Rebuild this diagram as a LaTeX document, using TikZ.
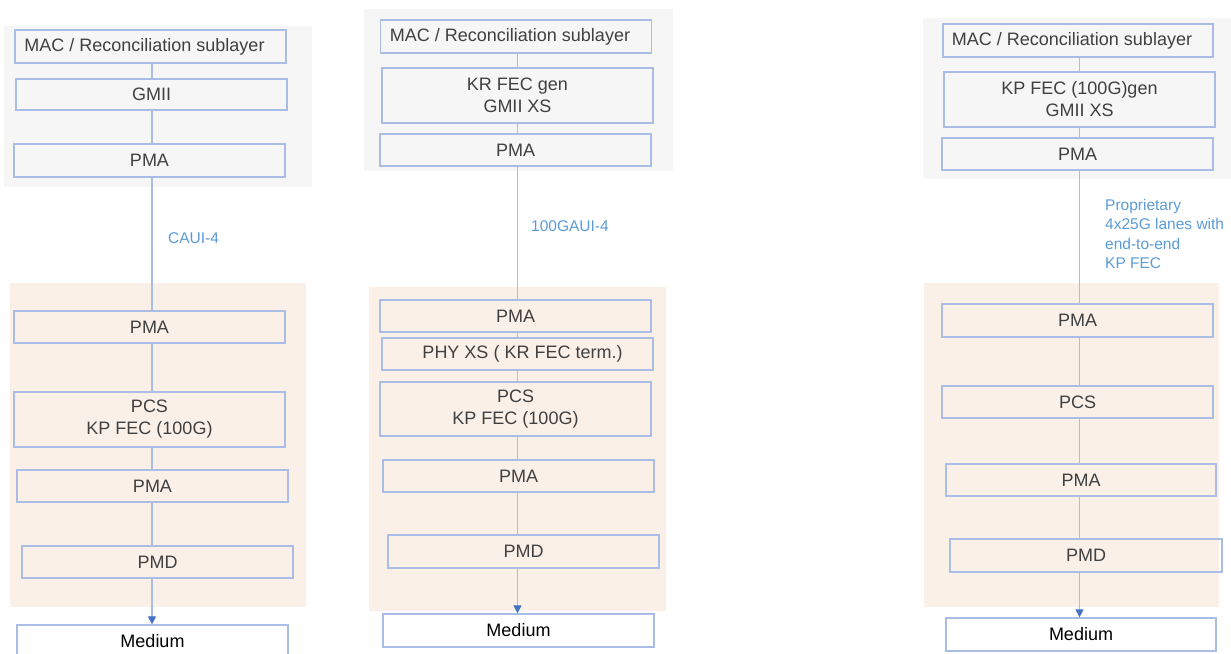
\documentclass[tikz,border=0pt]{standalone}
\usepackage{fontspec}
\setmainfont{Liberation Sans}
\usetikzlibrary{arrows.meta}
\definecolor{bggray}{HTML}{F6F6F6}
\definecolor{bgpeach}{HTML}{FBF0E8}
\definecolor{edgeblue}{HTML}{A9BDE6}
\definecolor{wireblue}{HTML}{A8BCE4}
\definecolor{tipblue}{HTML}{4472C4}
\definecolor{labelblue}{HTML}{5B9BD5}
\definecolor{txt}{HTML}{404040}
\tikzset{
  layer/.style={draw=edgeblue, line width=1.3pt, minimum width=271pt, minimum height=33pt,
    inner sep=0pt, align=center, text=txt, font=\fontsize{18}{22}\selectfont},
  tall/.style={minimum height=55pt},
  medium/.style={layer, fill=white, text=black},
  wire/.style={draw=wireblue, line width=1.1pt},
  arrowwire/.style={wire, -{Triangle[length=8pt, width=8pt, color=tipblue]}},
  linklabel/.style={text=labelblue, font=\fontsize{15.5}{19.5}\selectfont, align=left,
    anchor=west, inner sep=0pt},
}
% MAC text sits a little left of the box centre
\newcommand{\macrs}{MAC / Reconciliation sublayer\hspace{12pt}}
\begin{document}
\begin{tikzpicture}[x=1pt, y=-1pt]
\useasboundingbox (0,0) rectangle (1231,653);

% ---------- backgrounds: host side (gray) and PHY side (peach)
\fill[bggray]  (4,26)   rectangle (312,187);
\fill[bgpeach] (10,283) rectangle (306,607);
\fill[bggray]  (364,9)  rectangle (673,171);
\fill[bgpeach] (369,287) rectangle (666,611);
\fill[bggray]  (923,18) rectangle (1231,179);
\fill[bgpeach] (924,283) rectangle (1219,607);

% ---------- column 1: CAUI-4
\coordinate (x1) at (152,0);
\node[layer] (m1)   at (150.5,46.5) {\macrs};
\node[layer, minimum height=31pt] (g1) at (151.5,94.5) {GMII};
\node[layer] (p1)   at (149.5,160.5) {PMA};
\node[layer, minimum height=32pt] (q1) at (149.5,327) {PMA};
\node[layer, tall] (pcs1) at (149.5,419.5) {PCS\\KP FEC (100G)};
\node[layer, minimum height=32pt] (r1) at (152.5,486) {PMA};
\node[layer, minimum height=32pt] (pmd1) at (157.5,562) {PMD};
\node[medium] (med1) at (152.5,641.5) {Medium};
\draw[wire] (m1.south -| x1) -- (g1.north -| x1);
\draw[wire] (g1.south -| x1) -- (p1.north -| x1);
\draw[wire] (p1.south -| x1) -- (q1.north -| x1);
\draw[wire] (q1.south -| x1) -- (pcs1.north -| x1);
\draw[wire] (pcs1.south -| x1) -- (r1.north -| x1);
\draw[wire] (r1.south -| x1) -- (pmd1.north -| x1);
\draw[arrowwire] (pmd1.south -| x1) -- (med1.north -| x1);
\node[linklabel] (l1) at (168,238) {CAUI-4};

% ---------- column 2: 100GAUI-4
\coordinate (x2) at (517.5,0);
\node[layer] (m2)   at (516,36.5) {\macrs};
\node[layer, tall] (kr2) at (517.5,95.5) {KR FEC gen\\GMII XS};
\node[layer, minimum height=32pt] (p2) at (515.5,150) {PMA};
\node[layer, minimum height=32pt] (q2) at (515.5,316) {PMA};
\node[layer, minimum height=32pt] (phy2) at (517.5,354) {\hspace{10pt}PHY XS ( KR FEC term.)};
\node[layer, minimum height=54pt] (pcs2) at (515.5,409) {PCS\\KP FEC (100G)};
\node[layer, minimum height=32pt] (r2) at (518.5,476) {PMA};
\node[layer] (pmd2) at (523.5,551.5) {PMD};
\node[medium] (med2) at (518.5,630.5) {Medium};
\draw[wire] (m2.south -| x2) -- (kr2.north -| x2);
\draw[wire] (kr2.south -| x2) -- (p2.north -| x2);
\draw[wire] (p2.south -| x2) -- (q2.north -| x2);
\draw[wire] (q2.south -| x2) -- (phy2.north -| x2);
\draw[wire] (phy2.south -| x2) -- (pcs2.north -| x2);
\draw[wire] (pcs2.south -| x2) -- (r2.north -| x2);
\draw[wire] (r2.south -| x2) -- (pmd2.north -| x2);
\draw[arrowwire] (pmd2.south -| x2) -- (med2.north -| x2);
\node[linklabel] (l2) at (531,226) {100GAUI-4};

% ---------- column 3: proprietary lanes
\coordinate (x3) at (1079.5,0);
\node[layer, minimum width=270pt] (m3) at (1078,40.5) {\macrs};
\node[layer, tall] (kp3) at (1079.5,99.5) {KP FEC (100G)gen\\GMII XS};
\node[layer, minimum height=32pt] (p3) at (1077.5,154) {PMA};
\node[layer] (q3) at (1077.5,320.5) {PMA};
\node[layer, minimum height=32pt] (pcs3) at (1077.5,402) {PCS};
\node[layer, minimum width=270pt, minimum height=32pt] (r3) at (1081,480) {PMA};
\node[layer, minimum width=272pt] (pmd3) at (1086,555.5) {PMD};
\node[medium, minimum width=270pt] (med3) at (1081,634.5) {Medium};
\draw[wire] (m3.south -| x3) -- (kp3.north -| x3);
\draw[wire] (kp3.south -| x3) -- (p3.north -| x3);
\draw[wire] (p3.south -| x3) -- (q3.north -| x3);
\draw[wire] (q3.south -| x3) -- (pcs3.north -| x3);
\draw[wire] (pcs3.south -| x3) -- (r3.north -| x3);
\draw[wire] (r3.south -| x3) -- (pmd3.north -| x3);
\draw[arrowwire] (pmd3.south -| x3) -- (med3.north -| x3);
\node[linklabel] (l3) at (1105,234) {Proprietary\\4x25G lanes with\\end-to-end\\KP FEC};
\end{tikzpicture}
\end{document}
